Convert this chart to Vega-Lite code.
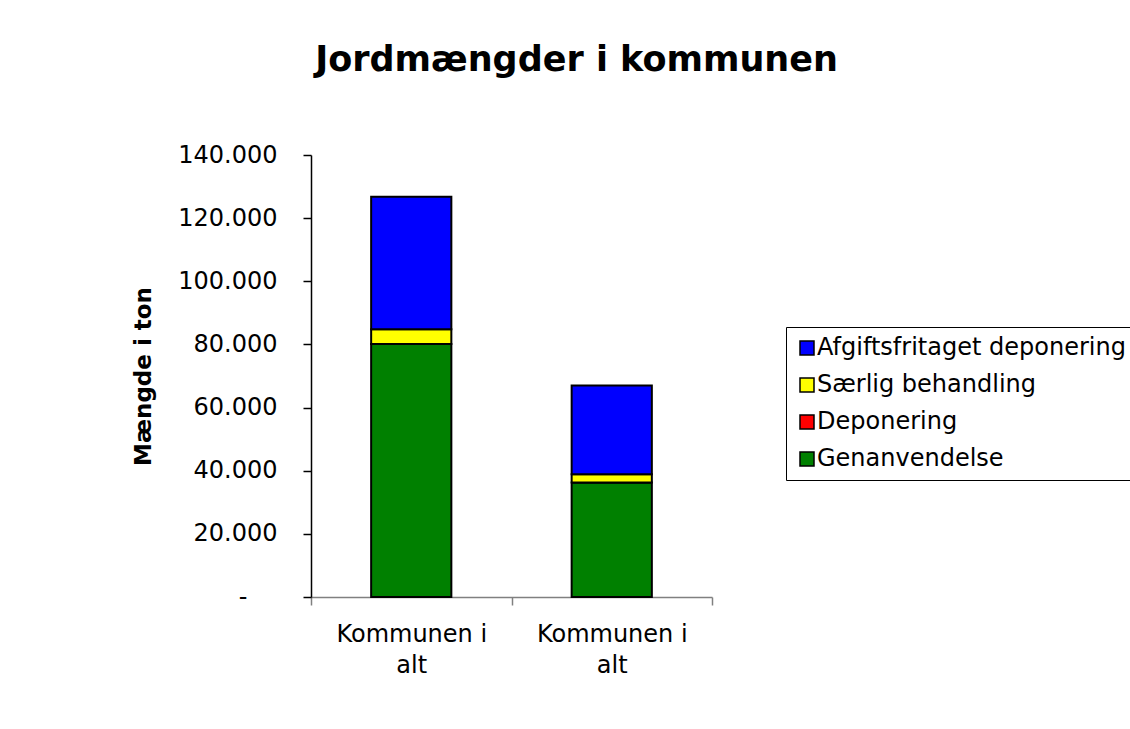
{
  "$schema": "https://vega.github.io/schema/vega-lite/v6.json",
  "width": 401,
  "height": 442,
  "padding": {"left": 132, "top": 43, "right": 5, "bottom": 5},
  "background": "white",
  "title": {
    "text": "Jordmængder i kommunen",
    "font": "DejaVu Sans",
    "fontSize": 35,
    "fontWeight": "bold",
    "color": "#000000",
    "anchor": "middle",
    "dx": 65,
    "offset": 65
  },
  "data": {
    "values": [
      {"bar": "A", "serie": "Genanvendelse", "ord": 1, "ton": 80100},
      {"bar": "A", "serie": "Deponering", "ord": 2, "ton": 0},
      {"bar": "A", "serie": "Særlig behandling", "ord": 3, "ton": 4700},
      {"bar": "A", "serie": "Afgiftsfritaget deponering", "ord": 4, "ton": 42000},
      {"bar": "B", "serie": "Genanvendelse", "ord": 1, "ton": 36300},
      {"bar": "B", "serie": "Deponering", "ord": 2, "ton": 0},
      {"bar": "B", "serie": "Særlig behandling", "ord": 3, "ton": 2600},
      {"bar": "B", "serie": "Afgiftsfritaget deponering", "ord": 4, "ton": 28100}
    ]
  },
  "mark": {"type": "bar", "stroke": "#000000", "strokeWidth": 2, "width": {"band": 0.4}},
  "encoding": {
    "x": {
      "field": "bar",
      "type": "nominal",
      "scale": {"type": "band", "paddingInner": 0, "paddingOuter": 0},
      "axis": {
        "title": null,
        "labelAngle": 0,
        "labelExpr": "(datum.value == 'A' || datum.value == 'B') ? ['Kommunen i', 'alt'] : ''",
        "labelFont": "DejaVu Sans",
        "labelFontSize": 24,
        "labelColor": "#000000",
        "labelLineHeight": 31,
        "labelPadding": 17,
        "tickBand": "extent",
        "tickSize": 8,
        "tickColor": "#808080",
        "domainColor": "#808080",
        "domainWidth": 1.5,
        "tickWidth": 1.5,
        "grid": false
      }
    },
    "y": {
      "field": "ton",
      "type": "quantitative",
      "stack": "zero",
      "scale": {"domain": [0, 140000], "nice": false},
      "axis": {
        "title": "Mængde i ton",
        "titleFont": "DejaVu Sans",
        "titleFontSize": 23,
        "titleFontWeight": "bold",
        "titleColor": "#000000",
        "titlePadding": 22,
        "values": [0, 20000, 40000, 60000, 80000, 100000, 120000, 140000],
        "labelExpr": "datum.value == 0 ? '-' : replace(format(datum.value, ','), ',', '.')",
        "labelFont": "DejaVu Sans",
        "labelFontSize": 24,
        "labelColor": "#000000",
        "labelPadding": {"condition": {"test": "datum.value == 0", "value": 56}, "value": 26},
        "tickSize": 8,
        "tickColor": "#000000",
        "domainColor": "#000000",
        "domainWidth": 1.5,
        "tickWidth": 1.5,
        "grid": false
      }
    },
    "color": {
      "field": "serie",
      "type": "nominal",
      "scale": {
        "domain": ["Afgiftsfritaget deponering", "Særlig behandling", "Deponering", "Genanvendelse"],
        "range": ["#0000FF", "#FFFF00", "#FF0000", "#008000"]
      },
      "legend": {
        "title": null,
        "orient": "none",
        "legendX": 475,
        "legendY": 172,
        "symbolType": "square",
        "symbolSize": 196,
        "symbolStrokeColor": "#000000",
        "symbolStrokeWidth": 1.5,
        "labelFont": "DejaVu Sans",
        "labelFontSize": 24,
        "labelColor": "#000000",
        "labelOffset": -2,
        "rowPadding": 13,
        "padding": 9,
        "strokeColor": "#000000",
        "fillColor": "#ffffff",
        "labelLimit": 400
      }
    },
    "order": {"field": "ord", "type": "quantitative", "sort": "ascending"}
  },
  "config": {
    "view": {"stroke": null}
  }
}
